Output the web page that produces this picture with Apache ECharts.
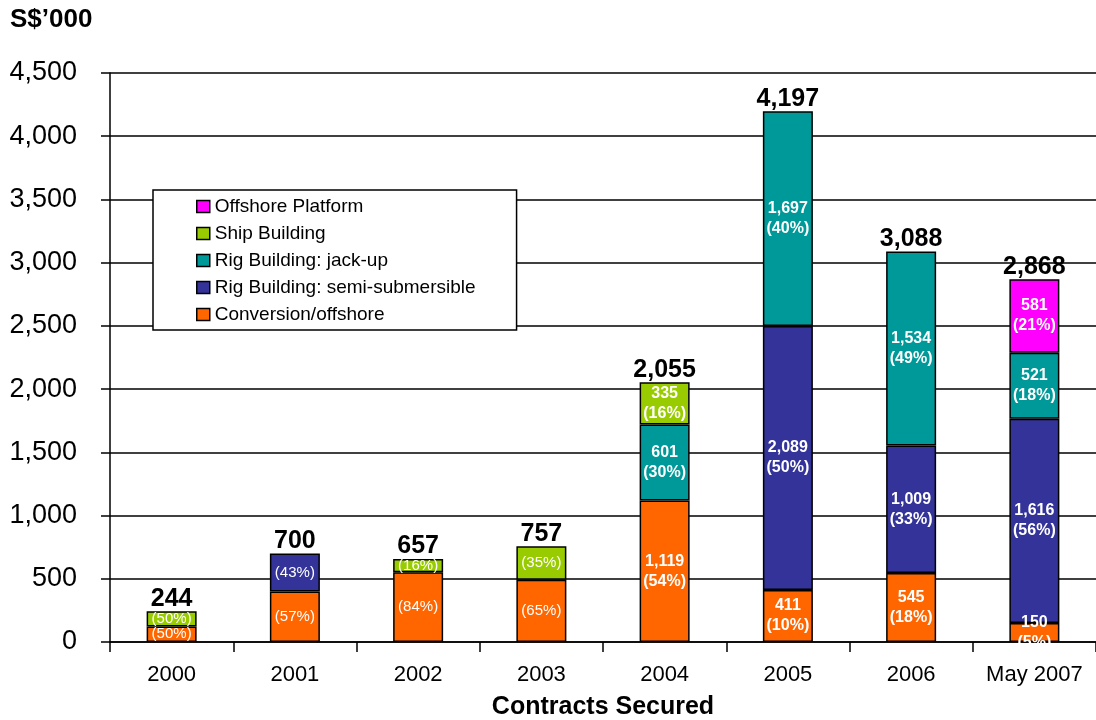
<!DOCTYPE html>
<html>
<head>
<meta charset="utf-8">
<script src="https://cdn.jsdelivr.net/npm/echarts@6/dist/echarts.min.js"></script>
<style>html,body{margin:0;padding:0;background:#fff}#c{width:1096px;height:720px}</style>
</head>
<body>
<div id="c"></div>
<script>
var categories = ['2000','2001','2002','2003','2004','2005','2006','May 2007'];
var conversion = [122,399,552,492,1119,411,545,150];
var semiSub    = [null,301,null,null,null,2089,1009,1616];
var jackUp     = [null,null,null,null,601,1697,1534,521];
var shipBuild  = [122,null,105,265,335,null,null,null];
var offshore   = [null,null,null,null,null,null,null,581];
var conversionPct = [50,57,84,65,54,10,18,5];
var semiSubPct    = [null,43,null,null,null,50,33,56];
var jackUpPct     = [null,null,null,null,30,40,49,18];
var shipBuildPct  = [50,null,16,35,16,null,null,null];
var offshorePct   = [null,null,null,null,null,null,null,21];
var totals = [244,700,657,757,2055,4197,3088,2868];

var FONT = 'Liberation Sans, Arial, sans-serif';
function fmt(n){ return n.toLocaleString('en-US'); }

function buildData(vals, pcts){
  return vals.map(function(v,i){
    if (v == null) return '-';
    var big = i >= 4;
    return {
      value: v,
      label: {
        show: true,
        position: 'inside',
        color: '#fff',
        fontFamily: FONT,
        fontSize: big ? 16 : 15,
        fontWeight: big ? 'bold' : 'normal',
        lineHeight: big ? 20 : 16,
        formatter: big ? (fmt(v) + '\n(' + pcts[i] + '%)') : ('(' + pcts[i] + '%)')
      }
    };
  });
}

var seriesDefs = [
  {name:'Conversion/offshore', vals:conversion, pcts:conversionPct, color:'#FF6600'},
  {name:'Rig Building: semi-submersible', vals:semiSub, pcts:semiSubPct, color:'#333399'},
  {name:'Rig Building: jack-up', vals:jackUp, pcts:jackUpPct, color:'#009999'},
  {name:'Ship Building', vals:shipBuild, pcts:shipBuildPct, color:'#99CC00'},
  {name:'Offshore Platform', vals:offshore, pcts:offshorePct, color:'#FF00FF'}
];

var series = seriesDefs.map(function(s){
  return {
    name: s.name,
    type: 'bar',
    stack: 'total',
    barWidth: 50,
    z: 3,
    itemStyle: {color: s.color, borderColor: '#000', borderWidth: 1.5},
    data: buildData(s.vals, s.pcts)
  };
});
series.push({
  name: 'Total',
  type: 'bar',
  barWidth: 50,
  barGap: '-100%',
  z: 1,
  silent: true,
  itemStyle: {color: 'rgba(0,0,0,0)'},
  label: {
    show: true, position: 'top', distance: 0,
    color: '#000', fontSize: 25, fontWeight: 'bold',
    fontFamily: FONT,
    formatter: function(p){ return fmt(p.value); }
  },
  data: totals
});

var chart = echarts.init(document.getElementById('c'));
chart.setOption({
  animation: false,
  backgroundColor: '#fff',
  textStyle: {fontFamily: FONT},
  grid: {left: 110, right: 0, top: 73, bottom: 78, containLabel: false, outerBoundsMode: 'none'},
  graphic: [{
    type: 'text', left: 10, top: 7,
    style: {text: 'S$\u2019000', fontSize: 26, fontWeight: 'bold', fill: '#000', fontFamily: FONT}
  }],
  legend: {
    data: ['Offshore Platform','Ship Building','Rig Building: jack-up','Rig Building: semi-submersible','Conversion/offshore'],
    orient: 'vertical',
    left: 153, top: 190,
    padding: [7, 41, 6, 43],
    itemWidth: 13, itemHeight: 12,
    itemGap: 8,
    backgroundColor: '#fff',
    borderColor: '#000', borderWidth: 1.5,
    icon: 'rect',
    itemStyle: {borderColor: '#000', borderWidth: 1.5},
    textStyle: {fontSize: 19, color: '#000', fontFamily: FONT}
  },
  xAxis: {
    type: 'category',
    data: categories,
    name: 'Contracts Secured',
    nameLocation: 'middle',
    nameGap: 53,
    nameTextStyle: {fontSize: 25, fontWeight: 'bold', color: '#000', fontFamily: FONT},
    axisLine: {lineStyle: {color: '#000', width: 1.5}},
    axisTick: {show: true, interval: 0, length: 10, lineStyle: {color: '#000', width: 1.5}},
    axisLabel: {interval: 0, fontSize: 22, color: '#000', margin: 22, fontFamily: FONT}
  },
  yAxis: {
    type: 'value',
    min: 0, max: 4500, interval: 500,
    axisLine: {show: true, lineStyle: {color: '#000', width: 1.5}},
    axisTick: {show: true, length: 9, lineStyle: {color: '#000', width: 1.5}},
    splitLine: {show: true, lineStyle: {color: '#000', width: 1.5}},
    axisLabel: {fontSize: 27, color: '#000', margin: 33, fontFamily: FONT,
                formatter: function(v){ return fmt(v); }}
  },
  series: series
});
</script>
</body>
</html>
